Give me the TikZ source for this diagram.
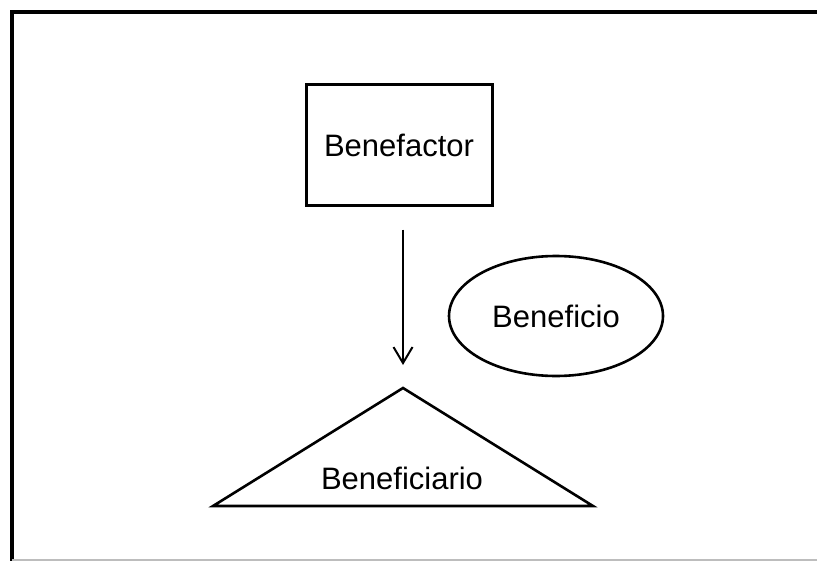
\documentclass[tikz,border=0pt]{standalone}
\usepackage{fontspec}
\setmainfont{Liberation Sans}
\usepackage{tikz}
\usetikzlibrary{positioning,arrows.meta,calc,shapes.geometric}
\definecolor{framegray}{HTML}{BDBDBD}

\begin{document}
\begin{tikzpicture}[x=0.5pt, y=-0.5pt,
    lbl/.style={font=\fontsize{15.5}{18}\selectfont, inner sep=0pt},
    agentbox/.style={draw, line width=1.5pt, rectangle,
      minimum width=93pt, minimum height=60pt},
    gainoval/.style={draw, line width=1.3pt, ellipse,
      minimum width=107pt, minimum height=60pt}]
        \useasboundingbox (0,0) rectangle (817,561);

        % Frame
        \draw[line width=1.8pt] (10,12) -- (817,12);
        \draw[line width=1.8pt] (12,12) -- (12,561);
        \draw[framegray, line width=0.8pt] (12,560) -- (817,560);

        % Benefactor and benefit
        \node[agentbox, lbl] (benefactor) at (399,145) {Benefactor};
        \node[gainoval, lbl] (beneficio) at (556,316) {Beneficio};

        % Beneficiary triangle
        \coordinate (apex) at (403,388);
        \coordinate (baseL) at (213,506);
        \coordinate (baseR) at (593,506);
        \draw[line width=1.3pt, line join=miter] (apex) -- (baseR) -- (baseL) -- cycle;
        \node[lbl] (beneficiario) at (402,478) {Beneficiario};

        % Arrow
        \draw[-{Straight Barb[length=8pt, width=9.5pt]}, line width=1pt,
          shorten <=11.5pt, shorten >=11.5pt]
          (benefactor.south -| apex) -- (apex);
      \end{tikzpicture}
\end{document}
